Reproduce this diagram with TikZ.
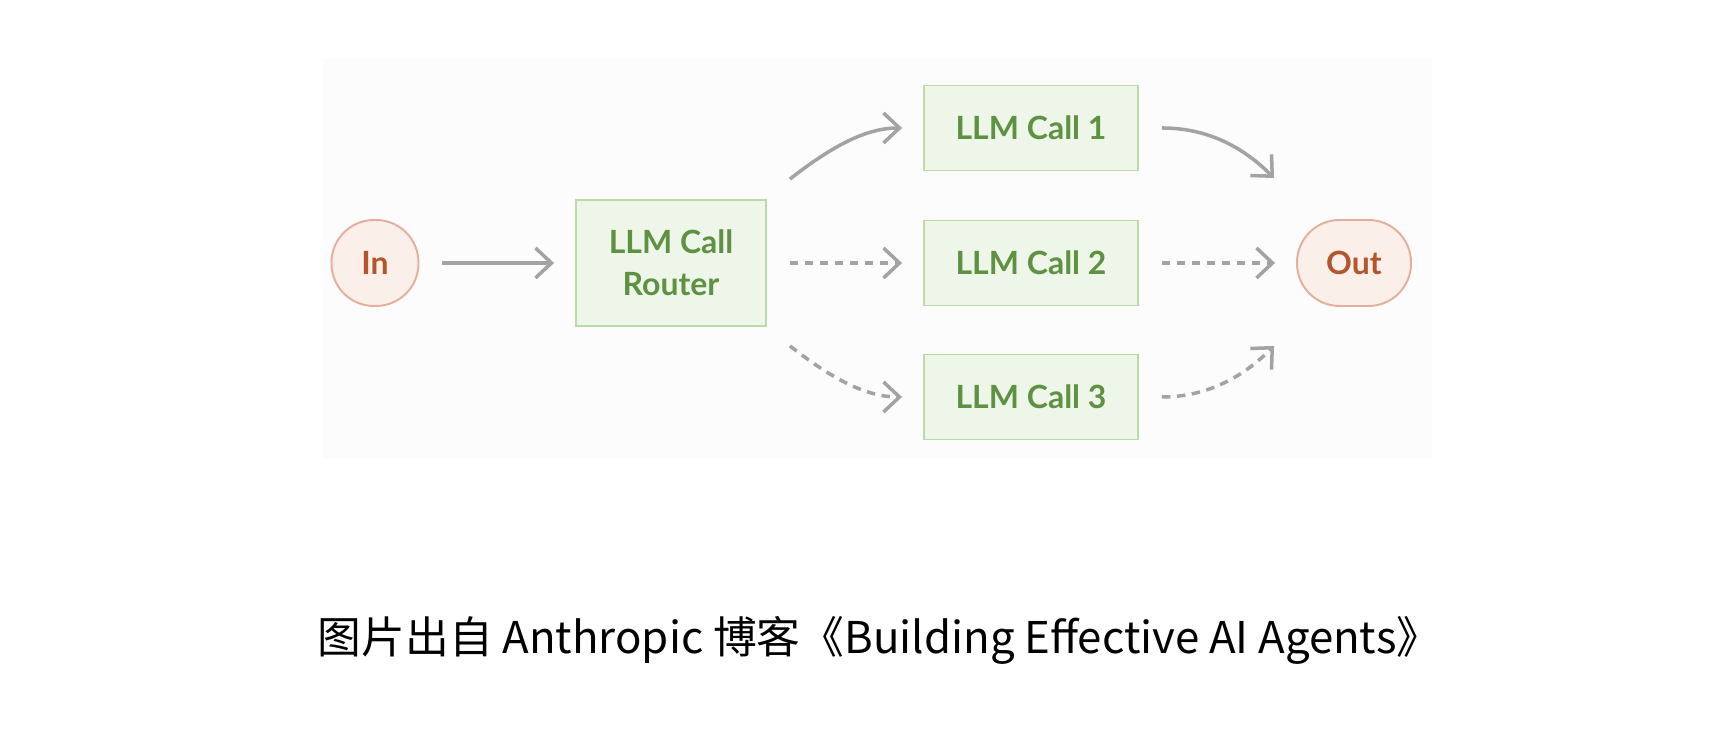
\documentclass[tikz,border=0pt]{standalone}
\usepackage{fontspec}
\usepackage{tikz}
\usetikzlibrary{arrows.meta}
\newfontfamily\diagfont{Lato}
\newfontfamily\cjk{Noto Sans CJK SC}
\definecolor{callfill}{HTML}{EEF5E9}
\definecolor{callline}{HTML}{B9DCA6}
\definecolor{calltext}{HTML}{5E9142}
\definecolor{iofill}{HTML}{FBEFEA}
\definecolor{ioline}{HTML}{E6AE9C}
\definecolor{iotext}{HTML}{B4552D}
\definecolor{arrowgray}{HTML}{A3A3A3}
\definecolor{backdrop}{HTML}{FCFCFC}
\begin{document}
\begin{tikzpicture}[x=0.02cm, y=0.02cm,
  callbox/.style={draw=callline, fill=callfill, line width=1.1pt, text=calltext,
    font=\diagfont\bfseries\fontsize{18.2}{24}\selectfont, align=center,
    minimum width=4.28cm, minimum height=1.7cm, inner sep=0pt},
  iobox/.style={draw=ioline, fill=iofill, line width=1.1pt, text=iotext,
    font=\diagfont\bfseries\fontsize{18.2}{24}\selectfont,
    minimum height=1.72cm, rounded corners=0.85cm, inner sep=0pt},
  arr/.style={draw=arrowgray, line width=2pt, -{Straight Barb[length=0.32cm, width=0.6cm]},
    shorten <=0.46cm, shorten >=0.42cm},
  dashedarr/.style={dash pattern=on 0.17cm off 0.13cm}]
\useasboundingbox (0, 0) rectangle (1732, 736);
\fill [backdrop] (323, 678) rectangle (1432, 278);
\node [iobox, minimum width=1.74cm] (in) at (375, 473) {In};
\node [callbox, minimum width=3.8cm, minimum height=2.52cm] (router) at (671, 473) {LLM Call\\Router};
\node [callbox] (call1) at (1031, 608) {LLM Call 1};
\node [callbox] (call2) at (1031, 473) {LLM Call 2};
\node [callbox] (call3) at (1031, 339) {LLM Call 3};
\node [iobox, minimum width=2.28cm] (out) at (1354, 473) {Out};
\draw [arr] (in) -- (router);
\draw [arr, shorten <=0pt] ([shift={(23, 20)}]router.north east) to[out=38, in=180] (call1.west);
\draw [arr, dashedarr] (router) -- (call2);
\draw [arr, dashedarr, shorten <=0pt] ([shift={(23, -19)}]router.south east) to[out=-38, in=180] (call3.west);
\draw [arr, shorten >=0pt] (call1.east) to[out=0, in=135] ([shift={(-22, 41)}]out.north west);
\draw [arr, dashedarr] (call2) -- (out);
\draw [arr, dashedarr, shorten >=0pt] (call3.east) to[out=0, in=-135] ([shift={(-22, -39)}]out.south west);
\node [font=\cjk\fontsize{24.9}{30}\selectfont] (caption) at (879, 96) {图片出自 Anthropic 博客《Building Effective AI Agents》};
\end{tikzpicture}
\end{document}
